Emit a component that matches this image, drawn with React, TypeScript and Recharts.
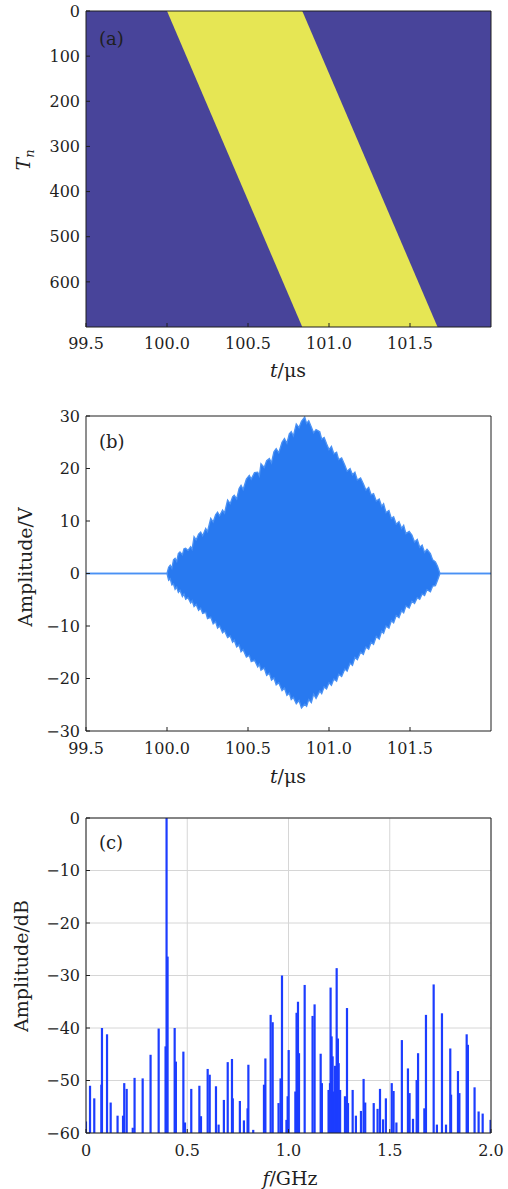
import { ComposedChart, Area, Bar, XAxis, YAxis, CartesianGrid } from "recharts";

// axis ticks
const timeTicks = [99.5, 100.0, 100.5, 101.0, 101.5];
const tnTicks = [0, 100, 200, 300, 400, 500, 600];
const ampTicks = [-30, -20, -10, 0, 10, 20, 30];
const freqTicks = [0, 0.5, 1.0, 1.5, 2.0];
const dbTicks = [-60, -50, -40, -30, -20, -10, 0];

// (a) yellow band: Tn range covered at each time (us)
const bandT = [100.0, 100.835, 101.67];
const bandLow = [0, 0, 700];
const bandHigh = [0, 700, 700];

// (b) signal envelope (V)
const envT = [
  99.5, 100.0, 100.01, 100.02, 100.03, 100.04, 100.05, 100.06, 100.07, 100.08,
  100.095, 100.105, 100.115, 100.13, 100.146, 100.155, 100.167, 100.18, 100.195, 100.208,
  100.22, 100.239, 100.25, 100.27, 100.285, 100.3, 100.312, 100.325, 100.343, 100.355,
  100.374, 100.39, 100.405, 100.415, 100.43, 100.445, 100.457, 100.47, 100.49, 100.508,
  100.52, 100.54, 100.56, 100.57, 100.58, 100.6, 100.615, 100.632, 100.645, 100.66,
  100.674, 100.69, 100.71, 100.725, 100.74, 100.755, 100.767, 100.78, 100.798, 100.815,
  100.83, 100.85, 100.862, 100.875, 100.891, 100.905, 100.92, 100.943, 100.955, 100.97,
  100.985, 101.0, 101.015, 101.03, 101.047, 101.06, 101.078, 101.098, 101.112, 101.13,
  101.145, 101.16, 101.175, 101.195, 101.212, 101.228, 101.245, 101.26, 101.275, 101.292,
  101.31, 101.325, 101.337, 101.352, 101.37, 101.385, 101.399, 101.415, 101.432, 101.448,
  101.461, 101.475, 101.495, 101.512, 101.528, 101.545, 101.56, 101.575, 101.59, 101.605,
  101.626, 101.64, 101.657, 101.67, 101.685, 102.0,
];
const envUp = [
  0, 0, 1.2, 1.6, 1.0, 2.6, 2.9, 2.3, 3.8, 4.1,
  3.6, 4.7, 4.8, 4.4, 5.1, 4.6, 7.0, 6.4, 7.5, 7.9,
  7.2, 8.6, 8.0, 10.5, 9.8, 11.2, 11.7, 11.0, 12.1, 11.5,
  14.0, 13.3, 14.6, 14.9, 14.2, 16.2, 16.8, 16.0, 18.0, 18.7,
  18.0, 19.2, 19.3, 18.6, 20.9, 20.2, 21.5, 21.9, 21.1, 23.2,
  23.8, 23.0, 25.0, 25.7, 24.8, 26.6, 27.0, 26.2, 28.5, 27.8,
  29.0, 29.8, 28.6, 29.1, 27.9, 26.8, 27.4, 27.0, 25.6, 25.9,
  24.7, 23.6, 24.2, 22.8, 23.1, 21.7, 22.0, 20.6, 19.5, 20.0,
  18.8, 19.3, 17.8, 18.2, 17.1, 15.9, 16.4, 15.0, 15.2, 13.8,
  14.2, 12.8, 13.3, 11.6, 12.0, 10.5, 10.8, 9.4, 9.9, 8.6,
  9.2, 7.6, 8.0, 7.3, 6.0, 6.5, 5.0, 5.4, 4.0, 4.6,
  3.8, 2.6, 2.2, 1.4, 0, 0,
];
const envDown = [
  0, 0, -1.3, -1.0, -2.2, -2.0, -3.0, -2.6, -3.6, -3.2,
  -4.4, -3.9, -4.9, -4.6, -5.6, -5.2, -6.3, -5.9, -7.0, -6.6,
  -7.6, -7.4, -8.6, -8.3, -9.6, -9.2, -10.4, -10.0, -11.3, -10.9,
  -12.2, -11.9, -13.1, -12.7, -14.0, -13.6, -14.9, -14.5, -15.9, -15.6,
  -16.8, -16.5, -17.8, -17.3, -18.4, -18.0, -19.4, -19.0, -20.3, -19.9,
  -21.2, -20.8, -22.3, -21.8, -23.2, -22.8, -24.0, -23.6, -24.8, -24.2,
  -25.6, -24.9, -25.3, -24.0, -24.6, -23.0, -23.8, -22.4, -22.9, -21.6,
  -22.0, -20.8, -21.3, -20.1, -20.5, -19.2, -19.6, -18.2, -18.6, -17.1,
  -17.5, -16.0, -16.4, -15.0, -15.4, -14.0, -14.4, -13.1, -13.5, -12.0,
  -12.5, -11.0, -11.4, -10.0, -10.4, -9.0, -9.4, -8.0, -8.4, -7.1,
  -7.5, -6.2, -6.6, -5.3, -5.7, -4.6, -4.9, -3.9, -4.2, -3.1,
  -3.5, -2.4, -2.3, -1.3, 0, 0,
];

// (c) spectral lines: frequency (GHz) and peak level (dB)
const specF = [
  0.0, 0.02, 0.041, 0.076, 0.079, 0.104, 0.122, 0.156, 0.183, 0.189,
  0.201, 0.231, 0.24, 0.28, 0.319, 0.359, 0.393, 0.398, 0.403, 0.438,
  0.444, 0.481, 0.489, 0.52, 0.56, 0.568, 0.601, 0.611, 0.642, 0.655,
  0.681, 0.7, 0.721, 0.725, 0.76, 0.78, 0.798, 0.802, 0.826, 0.879,
  0.886, 0.912, 0.922, 0.951, 0.961, 0.968, 0.99, 0.996, 1.001, 1.034,
  1.04, 1.047, 1.052, 1.08, 1.119, 1.129, 1.159, 1.165, 1.198, 1.205,
  1.208, 1.213, 1.218, 1.225, 1.23, 1.238, 1.244, 1.248, 1.255, 1.279,
  1.289, 1.294, 1.317, 1.333, 1.358, 1.371, 1.379, 1.421, 1.44, 1.452,
  1.467, 1.481, 1.51, 1.519, 1.533, 1.56, 1.59, 1.598, 1.615, 1.633,
  1.64, 1.671, 1.679, 1.717, 1.733, 1.758, 1.778, 1.799, 1.803, 1.837,
  1.844, 1.88, 1.886, 1.919, 1.939, 1.959, 1.998,
];
const specDb = [
  -57.8, -51, -53.4, -50.8, -40, -41.2, -54.2, -56.7, -56.7, -50.5,
  -51.6, -59, -49.5, -49.6, -45.1, -40.1, -43.5, 0, -26.4, -40,
  -46.4, -44.5, -58, -51.6, -51, -56.8, -47.8, -48.9, -51.1, -58.4,
  -53.7, -46.5, -45.9, -53.4, -53.9, -57.6, -55.3, -47, -59.4, -50.8,
  -45.8, -37.5, -38.9, -54.3, -49.6, -30, -57.5, -53, -44.2, -52.1,
  -37.1, -35, -44.8, -31.8, -37.7, -35.5, -44.9, -50.5, -51.8, -50.5,
  -32.3, -41.6, -45.4, -52.1, -47.2, -28.6, -42, -46.7, -51.8, -53,
  -36.2, -54.3, -51.8, -56.7, -55.8, -49.7, -54.2, -54.3, -55.4, -51.6,
  -57.4, -53.4, -50.5, -52, -58, -42.3, -47.7, -52.4, -57.3, -49.9,
  -44.8, -55.3, -37.5, -31.7, -58.4, -37.2, -58.4, -43.9, -52.7, -48.2,
  -52.4, -41.2, -43.2, -51.3, -55.9, -56.3, -57.5,
];

const bandData = bandT.map((t, i) => ({ t, tn: [bandLow[i], bandHigh[i]] }));
const envData = envT.map((t, i) => ({ t, v: [envDown[i], envUp[i]] }));
const specData = specF.map((f, i) => ({ f, db: [-60, specDb[i]] }));

const FONT = "DejaVu Serif";
const INK = "#1f1f1f";
const tickStyle = { fill: INK, fontSize: 16, fontFamily: FONT };

const minus = (v: number) => (v < 0 ? "\u2212" + Math.abs(v) : String(v));

function Txt(props: any) {
  return <text fill={INK} fontSize={19} fontFamily={FONT} {...props} />;
}

// spectral line drawn as a narrow stem centred on its frequency
function Stem(p: any) {
  if (p.x == null || p.y == null) return null;
  const cx = p.x + (p.width || 0) / 2;
  const top = Math.min(p.y, p.y + p.height);
  const h = Math.abs(p.height);
  return <rect x={cx - 1.1} y={top} width={2.2} height={h} fill="#1c3dff" />;
}

// frame axes (top and right) sharing the domains of the main ones
function frame(xDomain: number[], xTicks: number[], yDomain: number[], yTicks: number[], reversed = false) {
  return [
    <XAxis
      key="top"
      xAxisId="top"
      orientation="top"
      type="number"
      domain={xDomain}
      ticks={xTicks}
      allowDataOverflow
      height={1}
      tick={false}
      tickSize={-4}
      stroke={INK}
    />,
    <YAxis
      key="right"
      yAxisId="right"
      orientation="right"
      type="number"
      domain={yDomain}
      ticks={yTicks}
      reversed={reversed}
      allowDataOverflow
      width={1}
      tick={false}
      tickSize={-4}
      stroke={INK}
    />,
  ];
}

function PanelA() {
  return (
    <ComposedChart width={508} height={390} data={bandData} margin={{ top: 10, right: 16, bottom: 62, left: 85 }}>
      <CartesianGrid fill="#48449a" stroke="none" />
      <Area
        type="linear"
        dataKey="tn"
        fill="#e6e654"
        fillOpacity={1}
        stroke="none"
        isAnimationActive={false}
      />
      <XAxis
        type="number"
        dataKey="t"
        domain={[99.5, 102]}
        ticks={timeTicks}
        allowDataOverflow
        height={1}
        tickSize={-4}
        tickMargin={15}
        tick={tickStyle}
        stroke={INK}
        tickFormatter={(v: number) => v.toFixed(1)}
        label={{
          content: () => (
            <g>
              <Txt x={288} y={377} textAnchor="middle">
                <tspan fontStyle="italic">t</tspan>/μs
              </Txt>
              <Txt x={99} y={45} fontSize={18}>(a)</Txt>
              <Txt transform="translate(30,160) rotate(-90)" textAnchor="middle">
                <tspan fontStyle="italic">T</tspan>
                <tspan fontStyle="italic" fontSize={13} dy={4}>n</tspan>
              </Txt>
            </g>
          ),
        }}
      />
      <YAxis
        type="number"
        domain={[0, 700]}
        ticks={tnTicks}
        reversed
        allowDataOverflow
        width={1}
        tickSize={-4}
        tickMargin={10}
        tick={tickStyle}
        stroke={INK}
      />
      {frame([99.5, 102], timeTicks, [0, 700], tnTicks, true)}
    </ComposedChart>
  );
}

function PanelB() {
  return (
    <ComposedChart width={508} height={400} data={envData} margin={{ top: 25, right: 16, bottom: 58, left: 85 }}>
      <Area
        type="linear"
        dataKey="v"
        fill="#2879f0"
        fillOpacity={1}
        stroke="#4a91f4"
        strokeWidth={1.3}
        isAnimationActive={false}
      />
      <XAxis
        type="number"
        dataKey="t"
        domain={[99.5, 102]}
        ticks={timeTicks}
        allowDataOverflow
        height={1}
        tickSize={-4}
        tickMargin={16}
        tick={tickStyle}
        stroke={INK}
        tickFormatter={(v: number) => v.toFixed(1)}
        label={{
          content: () => (
            <g>
              <Txt x={288} y={393} textAnchor="middle">
                <tspan fontStyle="italic">t</tspan>/μs
              </Txt>
              <Txt x={99} y={58} fontSize={18}>(b)</Txt>
              <Txt transform="translate(32,177) rotate(-90)" textAnchor="middle">
                Amplitude/V
              </Txt>
            </g>
          ),
        }}
      />
      <YAxis
        type="number"
        domain={[-30, 30]}
        ticks={ampTicks}
        allowDataOverflow
        width={1}
        tickSize={-4}
        tickMargin={10}
        tick={tickStyle}
        stroke={INK}
        tickFormatter={minus}
      />
      {frame([99.5, 102], timeTicks, [-30, 30], ampTicks)}
    </ComposedChart>
  );
}

function PanelC() {
  return (
    <ComposedChart width={508} height={399} data={specData} margin={{ top: 27, right: 16, bottom: 55, left: 85 }}>
      <CartesianGrid stroke="#d6d6d6" strokeWidth={1} />
      <Bar dataKey="db" fill="#1c3dff" barSize={2} shape={Stem} isAnimationActive={false} />
      <XAxis
        type="number"
        dataKey="f"
        domain={[0, 2]}
        ticks={freqTicks}
        allowDataOverflow
        height={1}
        tickSize={-4}
        tickMargin={16}
        tick={tickStyle}
        stroke={INK}
        tickFormatter={(v: number) => (v === 0 ? "0" : v.toFixed(1))}
        label={{
          content: () => (
            <g>
              <Txt x={290} y={395} textAnchor="middle">
                <tspan fontStyle="italic">f</tspan>/GHz
              </Txt>
              <Txt x={99} y={59} fontSize={18}>(c)</Txt>
              <Txt transform="translate(28,176) rotate(-90)" textAnchor="middle">
                Amplitude/dB
              </Txt>
            </g>
          ),
        }}
      />
      <YAxis
        type="number"
        domain={[-60, 0]}
        ticks={dbTicks}
        allowDataOverflow
        width={1}
        tickSize={-4}
        tickMargin={10}
        tick={tickStyle}
        stroke={INK}
        tickFormatter={minus}
      />
      {frame([0, 2], freqTicks, [-60, 0], dbTicks)}
    </ComposedChart>
  );
}

export default function App() {
  return (
    <div style={{ position: "absolute", left: 0, top: 0, width: 508, height: 1189, background: "#fff" }}>
      <div style={{ position: "absolute", left: 0, top: 0 }}>
        <PanelA />
      </div>
      <div style={{ position: "absolute", left: 0, top: 390 }}>
        <PanelB />
      </div>
      <div style={{ position: "absolute", left: 0, top: 790 }}>
        <PanelC />
      </div>
    </div>
  );
}
